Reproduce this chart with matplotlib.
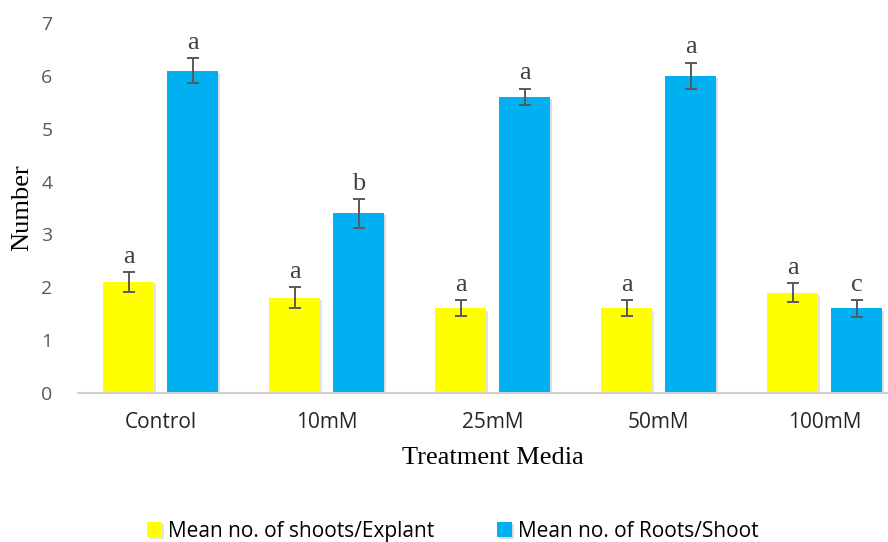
import numpy as np
import matplotlib
matplotlib.use('Agg')
import matplotlib.pyplot as plt
import matplotlib.patheffects as pe

media = ['Control', '10mM', '25mM', '50mM', '100mM']
shoots = [2.1, 1.8, 1.6, 1.6, 1.9]
shoots_err = [0.19, 0.2, 0.15, 0.15, 0.18]
roots = [6.1, 3.4, 5.6, 6.0, 1.6]
roots_err = [0.23, 0.27, 0.16, 0.25, 0.16]
shoots_letters = ['a', 'a', 'a', 'a', 'a']
roots_letters = ['a', 'b', 'a', 'a', 'c']

yellow = '#ffff00'
blue = '#00b0f0'
grey = '#595959'

fig = plt.figure(figsize=(8.88, 5.42), dpi=100)
ax = fig.add_axes([0.0873, 0.2749, 0.935, 0.6827])

x = np.arange(len(media))
w = 0.307
off = (w + 0.078) / 2
shadow = [pe.SimplePatchShadow(offset=(1.5, -1.5), alpha=0.15), pe.Normal()]

b1 = ax.bar(x - off, shoots, w, color=yellow, label='Mean no. of shoots/Explant',
            path_effects=shadow)
b2 = ax.bar(x + off, roots, w, color=blue, label='Mean no. of Roots/Shoot',
            path_effects=shadow)
ax.errorbar(x - off, shoots, yerr=shoots_err, fmt='none', ecolor=grey,
            elinewidth=1.4, capsize=4.5, capthick=1.4)
ax.errorbar(x + off, roots, yerr=roots_err, fmt='none', ecolor=grey,
            elinewidth=1.4, capsize=4.5, capthick=1.4)

for xi, v, e, t in zip(x - off, shoots, shoots_err, shoots_letters):
    ax.text(xi, v + e + 0.08, t, ha='center', va='bottom', fontsize=19,
            family='Liberation Serif', color='#404040')
for xi, v, e, t in zip(x + off, roots, roots_err, roots_letters):
    ax.text(xi, v + e + 0.08, t, ha='center', va='bottom', fontsize=19,
            family='Liberation Serif', color='#404040')

ax.set_xlim(-0.5, 4.5)
ax.set_ylim(0, 7)
ax.set_yticks(range(8))
ax.set_xticks(x)
ax.set_xticklabels(media, family='Open Sans', fontsize=15, color='#262626')
for lab in ax.get_yticklabels():
    lab.set_family('Open Sans')
    lab.set_fontsize(14)
    lab.set_color(grey)
ax.tick_params(length=0)
ax.tick_params(axis='y', pad=18)
ax.tick_params(axis='x', pad=14)
for s in ['top', 'right', 'left']:
    ax.spines[s].set_visible(False)
ax.spines['bottom'].set_color('#d0d0d0')
ax.spines['bottom'].set_linewidth(1.5)

ax.set_ylabel('Number', family='Liberation Serif', fontsize=19, labelpad=6)
ax.set_xlabel('Treatment Media', family='Liberation Serif', fontsize=19, labelpad=10)

fig.legend(handles=[b1, b2], loc='center', bbox_to_anchor=(0.51, 0.02), ncol=2,
           frameon=False, prop={'family': 'Open Sans', 'size': 15},
           handlelength=0.7, handleheight=0.7, handletextpad=0.3, columnspacing=3)

fig.savefig('out.png', dpi=100)
